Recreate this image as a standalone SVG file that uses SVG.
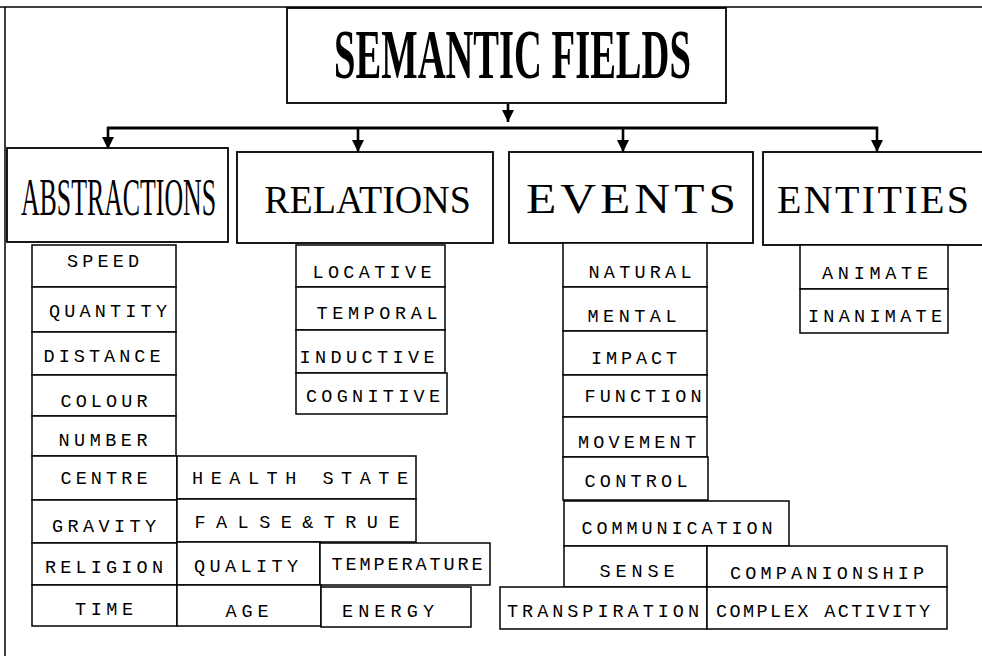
<svg xmlns="http://www.w3.org/2000/svg" width="982" height="656" viewBox="0 0 982 656">
<style>
.bg{fill:#fff}
.frame{fill:none;stroke:#000;stroke-width:1.5}
.box{fill:#fff;stroke:#000;stroke-width:1.5}
.mbox{fill:#fff;stroke:#000;stroke-width:1.8}
.conn{stroke:#000;stroke-width:2.6;fill:none}
.hline{stroke:#000;stroke-width:3;fill:none}
.t{font-family:"Liberation Mono","Courier New",monospace;font-size:18.5px;fill:#000;text-anchor:middle}
.h{font-family:"Liberation Serif","Times New Roman",serif;fill:#000;text-anchor:middle}
</style>
<defs>
<marker id="ah" markerUnits="userSpaceOnUse" markerWidth="12" markerHeight="12" viewBox="0 0 11 11" refX="11" refY="5.5" orient="auto">
<path d="M0,0 L11,5.5 L0,11 z" fill="#000"/>
</marker>
</defs>
<rect class="bg" x="0" y="0" width="982" height="656"/>
<path class="frame" d="M0,7 H982 M5,7 V656"/>

<g id="connectors">
<line class="conn" x1="508" y1="104" x2="508" y2="122" marker-end="url(#ah)"/>
<line class="hline" x1="107" y1="128" x2="878" y2="128"/>
<line class="conn" x1="108" y1="127" x2="108" y2="149" marker-end="url(#ah)"/>
<line class="conn" x1="358" y1="127" x2="358" y2="152" marker-end="url(#ah)"/>
<line class="conn" x1="623" y1="127" x2="623" y2="152" marker-end="url(#ah)"/>
<line class="conn" x1="877" y1="127" x2="877" y2="152" marker-end="url(#ah)"/>
</g>

<g id="semantic-fields">
<rect class="mbox" x="287" y="8" width="439" height="95"/>
<text class="h" transform="translate(512.5,78) scale(0.551,1)" font-size="70" font-weight="bold">SEMANTIC FIELDS</text>
</g>
<g id="abstractions">
<rect class="mbox" x="7" y="148" width="221" height="94"/>
<text class="h" transform="translate(118.5,215) scale(0.4875,1)" font-size="53">ABSTRACTIONS</text>
</g>
<g id="relations">
<rect class="mbox" x="237" y="152" width="256" height="91"/>
<text class="h" transform="translate(367.5,213) scale(0.925,1)" font-size="41">RELATIONS</text>
</g>
<g id="events">
<rect class="mbox" x="509" y="152" width="244" height="91"/>
<text class="h" transform="translate(631,213) scale(1.18,1)" font-size="42" textLength="178" lengthAdjust="spacing">EVENTS</text>
</g>
<g id="entities">
<rect class="mbox" x="763" y="152" width="225" height="93"/>
<text class="h" x="873" y="213" font-size="40" textLength="192" lengthAdjust="spacing">ENTITIES</text>
</g>

<!-- Abstractions sub-fields -->
<g id="speed"><rect class="box" x="32" y="245" width="144" height="42"/><text class="t" x="103" y="267" textLength="72" lengthAdjust="spacing">SPEED</text></g>
<g id="quantity"><rect class="box" x="32" y="287" width="144" height="45"/><text class="t" x="108" y="317" textLength="118" lengthAdjust="spacing">QUANTITY</text></g>
<g id="distance"><rect class="box" x="32" y="332" width="144" height="43"/><text class="t" x="102" y="362" textLength="117" lengthAdjust="spacing">DISTANCE</text></g>
<g id="colour"><rect class="box" x="32" y="375" width="144" height="41"/><text class="t" x="104" y="407" textLength="87" lengthAdjust="spacing">COLOUR</text></g>
<g id="number"><rect class="box" x="32" y="416" width="144" height="40"/><text class="t" x="103" y="446" textLength="89" lengthAdjust="spacing">NUMBER</text></g>
<g id="centre"><rect class="box" x="32" y="456" width="145" height="44"/><text class="t" x="104" y="484" textLength="87" lengthAdjust="spacing">CENTRE</text></g>
<g id="gravity"><rect class="box" x="32" y="500" width="145" height="43"/><text class="t" x="104" y="532" textLength="104" lengthAdjust="spacing">GRAVITY</text></g>
<g id="religion"><rect class="box" x="32" y="543" width="145" height="42"/><text class="t" x="104" y="573" textLength="118" lengthAdjust="spacing">RELIGION</text></g>
<g id="time"><rect class="box" x="32" y="585" width="145" height="41"/><text class="t" x="104" y="615" textLength="58" lengthAdjust="spacing">TIME</text></g>
<g id="health-state"><rect class="box" x="177" y="456" width="239" height="43"/><text class="t" x="300" y="484" textLength="216" lengthAdjust="spacing">HEALTH STATE</text></g>
<g id="false-true"><rect class="box" x="177" y="499" width="239" height="43"/><text class="t" x="297" y="528" textLength="205" lengthAdjust="spacing">FALSE&amp;TRUE</text></g>
<g id="quality"><rect class="box" x="177" y="542" width="143" height="43"/><text class="t" x="246" y="572" textLength="104" lengthAdjust="spacing">QUALITY</text></g>
<g id="temperature"><rect class="box" x="320" y="543" width="170" height="42"/><text class="t" x="407" y="570" textLength="151" lengthAdjust="spacing">TEMPERATURE</text></g>
<g id="age"><rect class="box" x="177" y="585" width="144" height="41"/><text class="t" x="247" y="617" textLength="43" lengthAdjust="spacing">AGE</text></g>
<g id="energy"><rect class="box" x="321" y="587" width="150" height="40"/><text class="t" x="388" y="617" textLength="92" lengthAdjust="spacing">ENERGY</text></g>

<!-- Relations sub-fields -->
<g id="locative"><rect class="box" x="296" y="245" width="149" height="42"/><text class="t" x="372" y="278" textLength="119" lengthAdjust="spacing">LOCATIVE</text></g>
<g id="temporal"><rect class="box" x="296" y="287" width="149" height="43"/><text class="t" x="377" y="319" textLength="121" lengthAdjust="spacing">TEMPORAL</text></g>
<g id="inductive"><rect class="box" x="296" y="330" width="149" height="43"/><text class="t" x="367" y="363" textLength="135" lengthAdjust="spacing">INDUCTIVE</text></g>
<g id="cognitive"><rect class="box" x="296" y="373" width="151" height="41"/><text class="t" x="373" y="402" textLength="134" lengthAdjust="spacing">COGNITIVE</text></g>

<!-- Events sub-fields -->
<g id="natural"><rect class="box" x="563" y="243" width="144" height="44"/><text class="t" x="640" y="278" textLength="103" lengthAdjust="spacing">NATURAL</text></g>
<g id="mental"><rect class="box" x="563" y="287" width="144" height="44"/><text class="t" x="632" y="322" textLength="89" lengthAdjust="spacing">MENTAL</text></g>
<g id="impact"><rect class="box" x="563" y="331" width="144" height="44"/><text class="t" x="634" y="364" textLength="86" lengthAdjust="spacing">IMPACT</text></g>
<g id="function"><rect class="box" x="563" y="375" width="144" height="42"/><text class="t" x="643" y="402" textLength="117" lengthAdjust="spacing">FUNCTION</text></g>
<g id="movement"><rect class="box" x="563" y="417" width="144" height="40"/><text class="t" x="637" y="448" textLength="118" lengthAdjust="spacing">MOVEMENT</text></g>
<g id="control"><rect class="box" x="563" y="457" width="145" height="43"/><text class="t" x="636" y="487" textLength="103" lengthAdjust="spacing">CONTROL</text></g>
<g id="communication"><rect class="box" x="564" y="501" width="225" height="45"/><text class="t" x="677" y="534" textLength="191" lengthAdjust="spacing">COMMUNICATION</text></g>
<g id="sense"><rect class="box" x="564" y="546" width="143" height="41"/><text class="t" x="637" y="577" textLength="75" lengthAdjust="spacing">SENSE</text></g>
<g id="companionship"><rect class="box" x="707" y="546" width="240" height="41"/><text class="t" x="827" y="579" textLength="194" lengthAdjust="spacing">COMPANIONSHIP</text></g>
<g id="transpiration"><rect class="box" x="500" y="587" width="207" height="42"/><text class="t" x="603" y="617" textLength="192" lengthAdjust="spacing">TRANSPIRATION</text></g>
<g id="complex-activity"><rect class="box" x="707" y="587" width="240" height="42"/><text class="t" x="823" y="617" textLength="214" lengthAdjust="spacing">COMPLEX ACTIVITY</text></g>

<!-- Entities sub-fields -->
<g id="animate"><rect class="box" x="800" y="245" width="148" height="44"/><text class="t" x="875" y="279" textLength="106" lengthAdjust="spacing">ANIMATE</text></g>
<g id="inanimate"><rect class="box" x="800" y="289" width="148" height="44"/><text class="t" x="875" y="322" textLength="134" lengthAdjust="spacing">INANIMATE</text></g>
</svg>
